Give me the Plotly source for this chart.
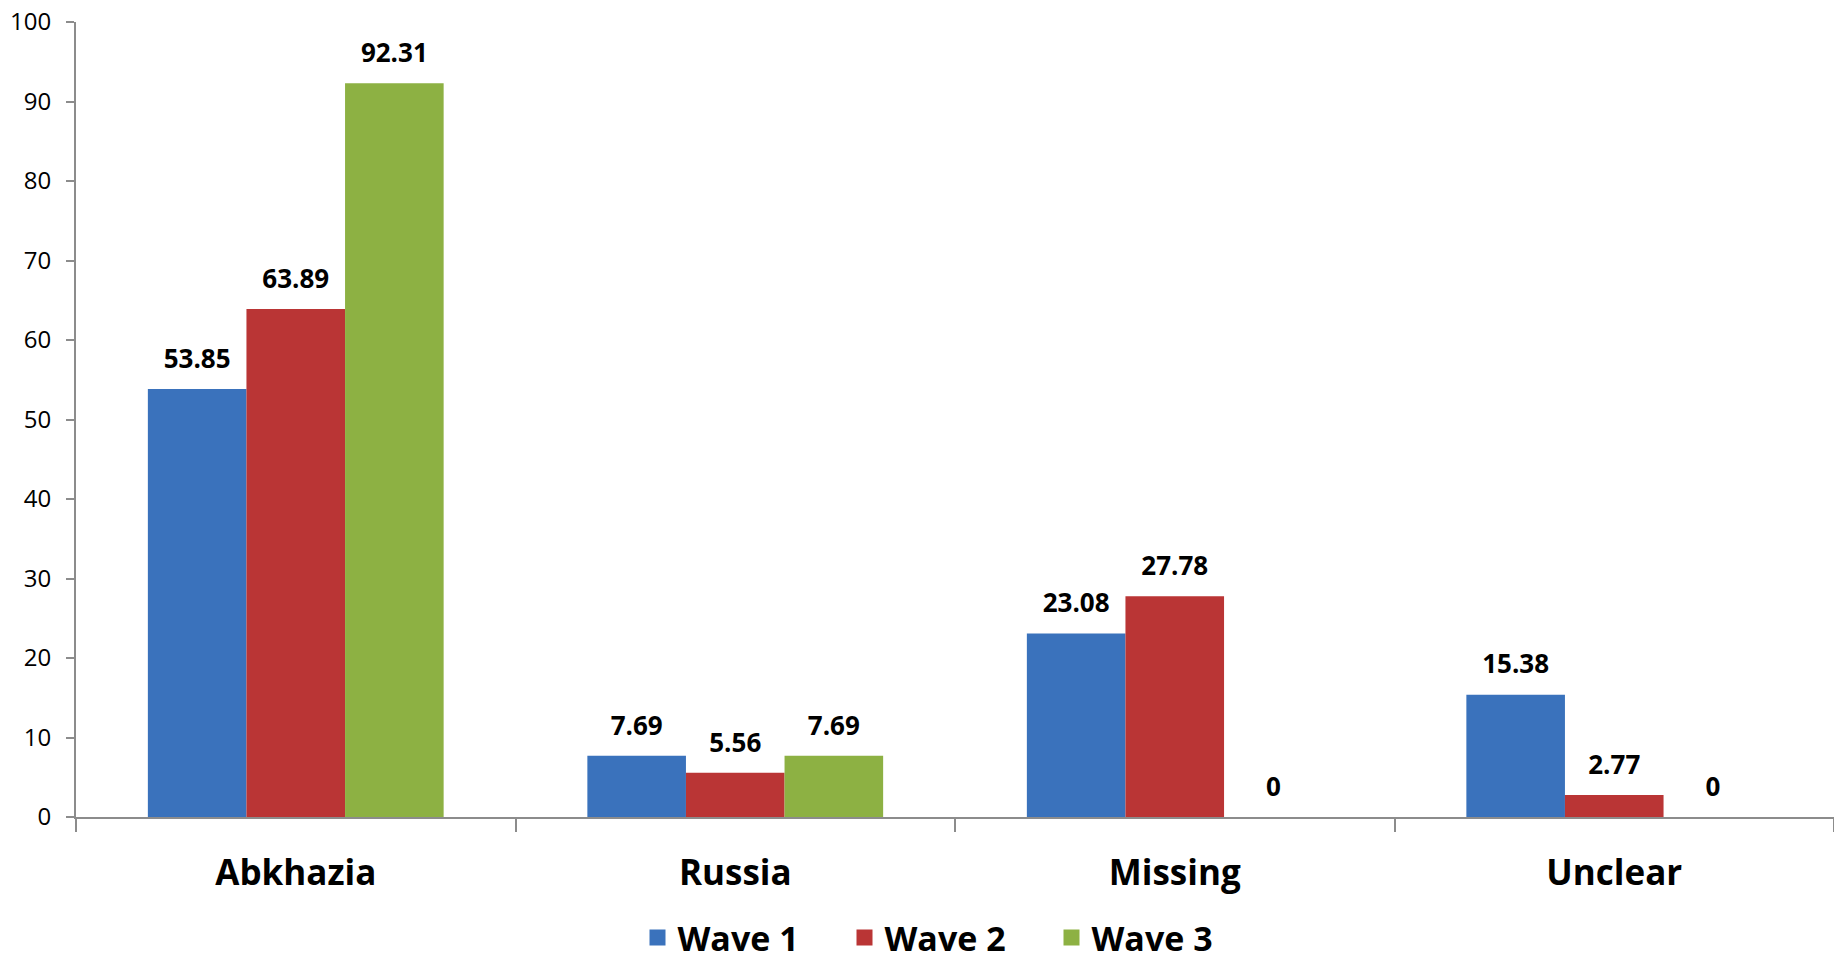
import plotly.graph_objects as go

# Share of responses by destination, per survey wave
categories = ["Abkhazia", "Russia", "Missing", "Unclear"]
wave1 = [53.85, 7.69, 23.08, 15.38]
wave2 = [63.89, 5.56, 27.78, 2.77]
wave3 = [92.31, 7.69, 0, 0]
series_names = ["Wave 1", "Wave 2", "Wave 3"]
y_ticks = list(range(0, 101, 10))

colors = ["#3A72BC", "#BA3535", "#8DB143"]

fig = go.Figure()
for i, (name, vals, col) in enumerate(zip(series_names, [wave1, wave2, wave3], colors)):
    grp = f"g{i}"
    # the bars themselves
    fig.add_trace(go.Bar(
        name=name,
        x=categories,
        y=vals,
        offsetgroup=grp,
        marker=dict(color=col, line=dict(width=0)),
        showlegend=False,
        hovertemplate="%{x}: %{y}<extra>" + name + "</extra>",
    ))
    # value labels, lifted above each bar by an invisible marker
    fig.add_trace(go.Scatter(
        x=categories,
        y=vals,
        offsetgroup=grp,
        mode="markers+text",
        marker=dict(size=22, color="rgba(0,0,0,0)"),
        text=[f"{v:g}" for v in vals],
        textposition="top center",
        textfont=dict(family="Open Sans", size=26, color="#000000", weight="bold"),
        cliponaxis=False,
        showlegend=False,
        hoverinfo="skip",
    ))
    # legend swatch
    fig.add_trace(go.Scatter(
        name=name,
        x=[None],
        y=[None],
        offsetgroup=grp,
        mode="markers",
        marker=dict(symbol="square", size=16, color=col),
        showlegend=True,
    ))

fig.update_layout(
    width=1834,
    height=962,
    paper_bgcolor="white",
    plot_bgcolor="white",
    barmode="group",
    bargap=0.327,
    bargroupgap=0,
    scattermode="group",
    scattergap=0.327,
    margin=dict(l=76, r=0, t=22, b=145, autoexpand=False),
    font=dict(family="Open Sans", color="#000000"),
    showlegend=True,
    legend=dict(
        orientation="h",
        x=(948 - 76) / 1758,
        xanchor="center",
        y=(817 - 938) / 795,
        yanchor="middle",
        font=dict(family="Open Sans", size=34, color="#000000", weight="bold"),
        itemwidth=30,
        entrywidth=162,
        entrywidthmode="pixels",
        traceorder="normal",
        itemsizing="trace",
    ),
)

fig.update_xaxes(
    type="category",
    showline=True,
    linecolor="#8C8C8C",
    linewidth=2,
    ticks="outside",
    tickson="boundaries",
    ticklen=13,
    tickwidth=2,
    tickcolor="#8C8C8C",
    tickfont=dict(family="Open Sans", size=35, color="#000000", weight="bold"),
    ticklabelstandoff=24,
    showgrid=False,
    zeroline=False,
)

fig.update_yaxes(
    range=[0, 100],
    tickvals=y_ticks,
    showline=True,
    linecolor="#8C8C8C",
    linewidth=2,
    ticks="outside",
    ticklen=8,
    tickwidth=2,
    tickcolor="#8C8C8C",
    tickfont=dict(family="Open Sans", size=24, color="#000000"),
    ticklabelstandoff=10,
    showgrid=False,
    zeroline=False,
)

fig.write_html("out.html")
